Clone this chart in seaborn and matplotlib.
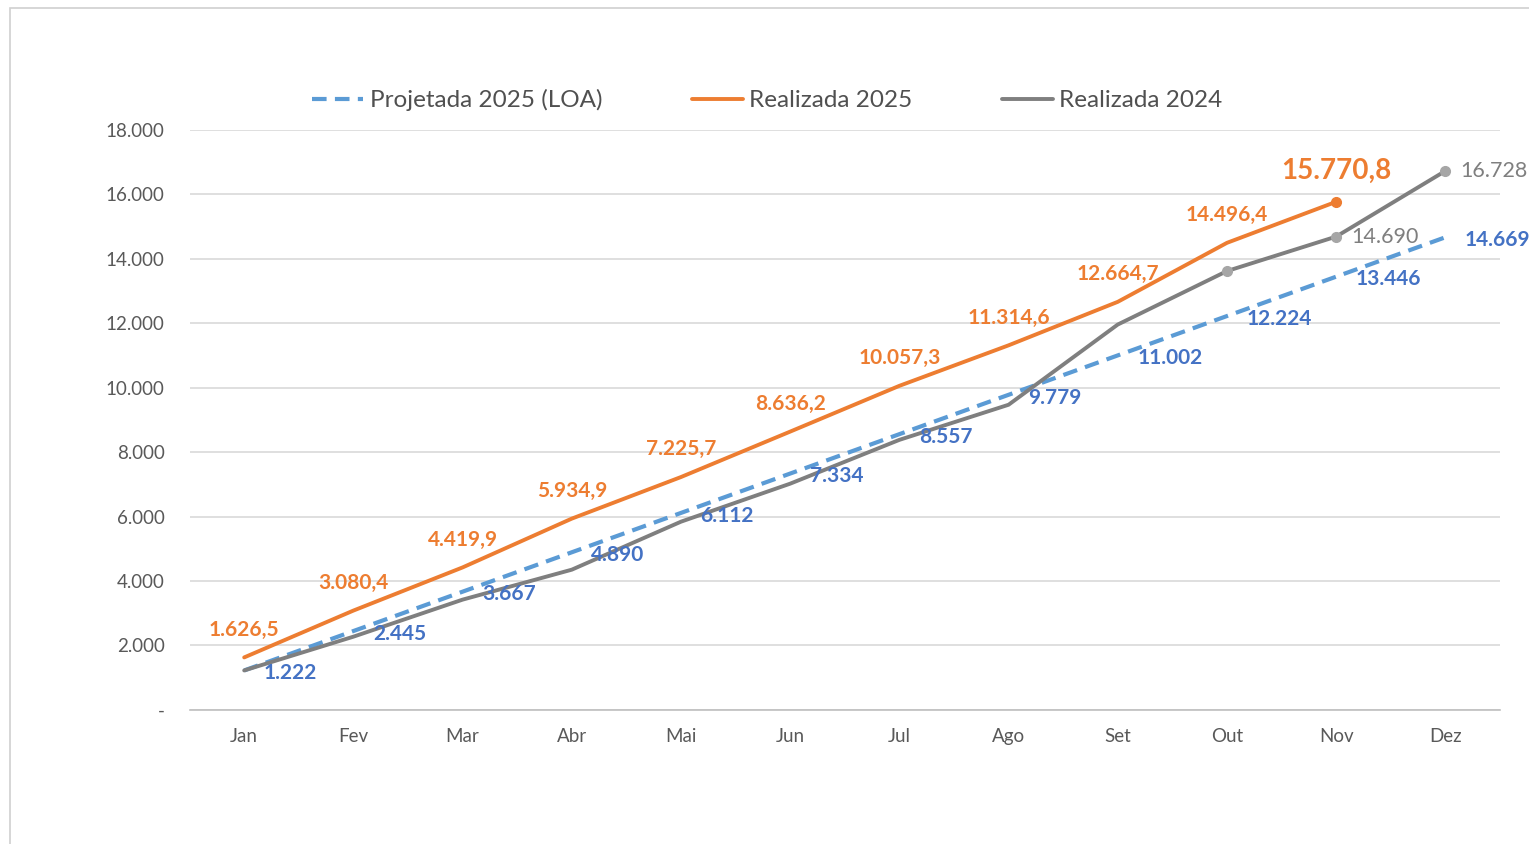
import numpy as np
import pandas as pd
import seaborn as sns
import matplotlib.pyplot as plt
from matplotlib.patches import Rectangle

meses = ["Jan", "Fev", "Mar", "Abr", "Mai", "Jun", "Jul", "Ago", "Set", "Out", "Nov", "Dez"]
projetada_2025 = [1222, 2445, 3667, 4890, 6112, 7334, 8557, 9779, 11002, 12224, 13446, 14669]
realizada_2025 = [1626.5, 3080.4, 4419.9, 5934.9, 7225.7, 8636.2, 10057.3, 11314.6, 12664.7, 14496.4, 15770.8]
realizada_2024 = [1222, 2270, 3420, 4350, 5840, 7020, 8380, 9470, 11960, 13620, 14690, 16728]

AZUL = "#5B9BD5"
AZUL_TXT = "#4472C4"
LARANJA = "#ED7D31"
CINZA = "#7F7F7F"


def fmt_int(v):
    return f"{v:,.0f}".replace(",", ".")


def fmt_dec(v):
    return f"{v:,.1f}".replace(",", "X").replace(".", ",").replace("X", ".")


sns.set_style("white")
plt.rcParams["font.family"] = ["Lato", "DejaVu Sans"]

fig = plt.figure(figsize=(15.29, 8.44), dpi=100)
ax = fig.add_axes([0.124, 0.159, 0.857, 0.687])

# moldura clara em volta da figura
fig.patches.append(Rectangle((10 / 1529, -0.05), 1.2, 1 - 8 / 844 + 0.05, transform=fig.transFigure,
                             fill=False, edgecolor="#D0D0D0", linewidth=1.2))

x_proj = np.arange(len(projetada_2025))
x_25 = np.arange(len(realizada_2025))
x_24 = np.arange(len(realizada_2024))

sns.lineplot(x=x_proj, y=projetada_2025, ax=ax, color=AZUL, linewidth=3, linestyle=(0, (3.5, 2)),
             label="Projetada 2025 (LOA)")
sns.lineplot(x=x_25, y=realizada_2025, ax=ax, color=LARANJA, linewidth=2.8, label="Realizada 2025")
sns.lineplot(x=x_24, y=realizada_2024, ax=ax, color=CINZA, linewidth=2.8, label="Realizada 2024")

# marcadores nos ultimos pontos
ax.plot(x_25[-1], realizada_2025[-1], "o", color=LARANJA, markersize=7)
ax.plot(x_24[-3:], realizada_2024[-3:], "o", color="#A6A6A6", markersize=7)

# rotulos
for i, v in enumerate(projetada_2025):
    ax.annotate(fmt_int(v), (i, v), xytext=(14, -2), textcoords="offset points",
                ha="left", va="center", color=AZUL_TXT, fontsize=15, fontweight="bold")
for i, v in enumerate(realizada_2025[:-1]):
    ax.annotate(fmt_dec(v), (i, v), xytext=(0, 20), textcoords="offset points",
                ha="center", va="center", color=LARANJA, fontsize=15, fontweight="bold")
ax.annotate(fmt_dec(realizada_2025[-1]), (x_25[-1], realizada_2025[-1]), xytext=(0, 22),
            textcoords="offset points", ha="center", va="center", color=LARANJA,
            fontsize=20, fontweight="bold")
for i in [len(realizada_2024) - 2, len(realizada_2024) - 1]:
    ax.annotate(fmt_int(realizada_2024[i]), (i, realizada_2024[i]), xytext=(11, 0),
                textcoords="offset points", ha="left", va="center", color=CINZA, fontsize=15.5)

ax.set_xlim(-0.5, len(meses) - 0.5)
ax.set_ylim(0, 18000)
ax.set_xticks(np.arange(len(meses)))
ax.set_xticklabels(meses)
yt = np.arange(0, 18001, 2000)
ax.set_yticks(yt)
ax.set_yticklabels(["-"] + [fmt_int(v) for v in yt[1:]])
ax.tick_params(axis="both", length=0, labelsize=13.5, colors="#595959")
ax.tick_params(axis="x", pad=13)
ax.tick_params(axis="y", pad=18)

ax.grid(axis="y", color="#D9D9D9", linewidth=1.2)
ax.grid(axis="x", visible=False)
for s in ["top", "right", "left"]:
    ax.spines[s].set_visible(False)
ax.spines["bottom"].set_color("#BFBFBF")
ax.spines["bottom"].set_linewidth(1.2)

ax.get_legend().remove()
h, l = ax.get_legend_handles_labels()
fig.legend(h, l, loc="center", bbox_to_anchor=(0.502, 1 - 100 / 844), ncol=3, frameon=False,
           fontsize=17.5, handlelength=2.1, handletextpad=0.25, columnspacing=3.7,
           labelcolor="#505050")

fig.savefig("out.png", dpi=100)
